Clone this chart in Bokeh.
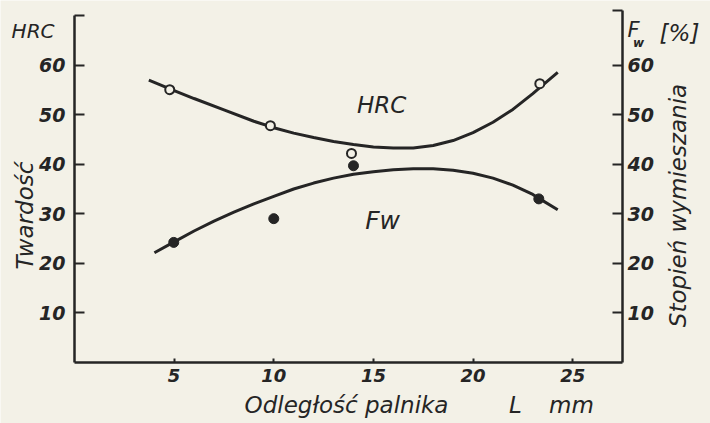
from math import pi
from bokeh.plotting import figure
from bokeh.models import Range1d, LinearAxis, FixedTicker, Label
from bokeh.embed import file_html
from bokeh.resources import INLINE

# ---- data ----
x_ticks = [5, 10, 15, 20, 25]
left_ticks = [10, 20, 30, 40, 50, 60, 70]
right_ticks = [10, 20, 30, 40, 50, 60, 71.2]

hrc_x = [4.78, 9.83, 13.9, 23.35]
hrc_y = [55.1, 47.8, 42.2, 56.3]
fw_x = [4.98, 10.0, 14.0, 23.3]
fw_y = [24.2, 29.0, 39.7, 33.0]

hrc_curve_x = [3.73, 5, 6, 7.5, 9, 10, 11, 12, 13, 14, 15, 16, 17, 18, 19, 20, 21, 22, 23, 23.35, 24.25]
hrc_curve_y = [57.0, 54.9, 53.3, 51.0, 48.7, 47.4, 46.3, 45.4, 44.6, 44.0, 43.5, 43.3, 43.3, 43.8, 44.8, 46.4, 48.5, 51.1, 54.3, 55.5, 58.6]

fw_curve_x = [4.01, 5, 6, 7, 8, 9, 10, 11, 12, 13, 14, 15, 16, 17, 18, 19, 20, 21, 22, 23, 23.35, 24.25]
fw_curve_y = [22.1, 24.3, 26.5, 28.5, 30.3, 32.0, 33.5, 35.0, 36.2, 37.2, 38.0, 38.5, 38.9, 39.1, 39.1, 38.8, 38.2, 37.2, 35.8, 33.9, 33.0, 30.8]

# extents of the drawn axes (data units)
x_lo, x_hi = 0.0, 27.5
y_lo, y_left_top, y_right_top = -0.1, 70.0, 71.2

BG = "#f3f1e7"
INK = "#252525"
FONT = "DejaVu Sans"

p = figure(width=710, height=423, output_backend="svg", toolbar_location=None,
           x_range=Range1d(-3.7135, 31.916), y_range=Range1d(-12.431, 73.127),
           x_axis_location=None, y_axis_location=None,
           min_border_left=0, min_border_right=0, min_border_top=0, min_border_bottom=0)
p.background_fill_color = BG
p.border_fill_color = BG
p.outline_line_color = None
p.xgrid.visible = False
p.ygrid.visible = False


def style_axis(ax, ticks, standoff):
    ax.ticker = FixedTicker(ticks=ticks)
    ax.minor_tick_line_color = None
    ax.axis_line_width = 2.5
    ax.axis_line_color = INK
    ax.major_tick_line_color = INK
    ax.major_tick_line_width = 2
    ax.major_tick_out = 0
    ax.major_label_text_font = FONT
    ax.major_label_text_font_style = "bold italic"
    ax.major_label_text_font_size = "19px"
    ax.major_label_text_color = INK
    ax.major_label_standoff = standoff


left = LinearAxis(fixed_location=x_lo, bounds=(y_lo, y_left_top))
style_axis(left, left_ticks, 9)
left.major_tick_in = 10
left.major_label_overrides = {70: ""}
p.add_layout(left, "left")

right = LinearAxis(fixed_location=x_hi, bounds=(y_lo, y_right_top))
style_axis(right, right_ticks, 5)
right.major_tick_in = 10
right.major_label_overrides = {71.2: ""}
p.add_layout(right, "right")

bottom = LinearAxis(fixed_location=y_lo, bounds=(x_lo, x_hi))
style_axis(bottom, x_ticks, 6)
bottom.major_tick_in = 4
bottom.major_label_text_font_size = "18px"
p.add_layout(bottom, "below")

# curves
p.line(hrc_curve_x, hrc_curve_y, line_color=INK, line_width=3)
p.line(fw_curve_x, fw_curve_y, line_color=INK, line_width=3)

# points
p.scatter(hrc_x, hrc_y, marker="circle", size=9, fill_color=BG, line_color=INK, line_width=2)
p.scatter(fw_x, fw_y, marker="circle", size=10, fill_color=INK, line_color=INK)


def lab(x, y, text, size, angle=0, align="center", style="italic"):
    p.add_layout(Label(x=x, y=y, text=text, angle=angle, text_align=align,
                       text_baseline="middle", text_font=FONT,
                       text_font_style=style, text_font_size=size, text_color=INK))


lab(-2.08, 66.86, "HRC", "20px")
lab(-2.46, 29.64, "Twardość", "23px", angle=pi / 2)
lab(28.05, 67.06, "F", "21px")
lab(28.3, 64.6, "w", "12px", style="bold italic")
lab(30.36, 66.65, "[%]", "23px")
lab(30.31, 31.66, "Stopień wymieszania", "23px", angle=pi / 2)
lab(13.65, -8.59, "Odległość palnika", "23px")
lab(22.13, -8.59, "L", "23px")
lab(24.94, -8.59, "mm", "23px")
lab(15.41, 51.89, "HRC", "23px")
lab(15.46, 28.63, "Fw", "25px")

open("out.html", "w").write(file_html(p, INLINE))
